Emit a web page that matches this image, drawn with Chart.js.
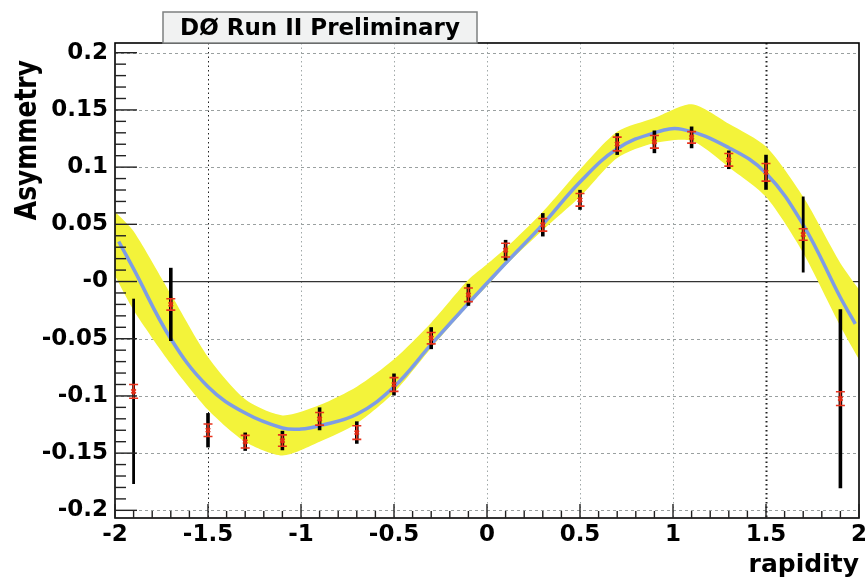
<!DOCTYPE HTML>
<html>
<head>
  <title>DØ Run II Preliminary - Asymmetry vs rapidity</title>
  <meta charset="utf-8" />
  <script src="https://cdn.jsdelivr.net/npm/chart.js@4.4.1/dist/chart.umd.min.js"></script>
  <style type="text/css">
    html, body { margin: 0; padding: 0; background: #fff; }
    canvas { display: block; }
  </style>
</head>
<body>
<canvas id="asym-chart" width="867" height="581"></canvas>

<script>
  // measured points
  var rapidity = [-1.9, -1.7, -1.5, -1.3, -1.1, -0.9, -0.7, -0.5, -0.3, -0.1,
                  0.1, 0.3, 0.5, 0.7, 0.9, 1.1, 1.3, 1.5, 1.7, 1.9];
  var asym = [-0.096, -0.020, -0.130, -0.140, -0.139, -0.120, -0.132, -0.090, -0.0495, -0.0116,
              0.0274, 0.0496, 0.0714, 0.1202, 0.1221, 0.126, 0.1064, 0.0955, 0.0411, -0.1024];
  var totErr = [0.081, 0.032, 0.015, 0.008, 0.0085, 0.010, 0.0098, 0.0096, 0.0096, 0.0096,
                0.009, 0.0102, 0.0087, 0.0095, 0.0099, 0.0095, 0.0081, 0.0153, 0.0332, 0.0782];
  var innerErr = [0.006, 0.005, 0.0055, 0.0055, 0.005, 0.0055, 0.006, 0.006, 0.005, 0.006,
                  0.006, 0.0055, 0.0055, 0.006, 0.0055, 0.005, 0.0055, 0.0077, 0.005, 0.006];

  // prediction (blue) and its band (yellow)
  var fitX = [-1.98, -1.9, -1.7, -1.5, -1.3, -1.1, -1.0, -0.9, -0.7, -0.5, -0.3, -0.1,
              0.1, 0.3, 0.5, 0.7, 0.9, 1.05, 1.3, 1.5, 1.7, 1.9, 1.98];
  var fitY = [0.035, 0.011, -0.050, -0.092, -0.115, -0.128, -0.129, -0.126, -0.116, -0.092, -0.055, -0.019,
              0.016, 0.050, 0.087, 0.116, 0.130, 0.133, 0.117, 0.0947, 0.0496, -0.014, -0.037];
  var bandX = [-2, -1.9, -1.7, -1.5, -1.3, -1.1, -0.9, -0.7, -0.5, -0.3, -0.1, 0,
               0.1, 0.3, 0.5, 0.7, 0.9, 1.1, 1.3, 1.5, 1.7, 1.9, 2];
  var bandHi = [0.061, 0.044, -0.011, -0.066, -0.103, -0.117, -0.108, -0.092, -0.068, -0.036, 0.0015, 0.015,
                0.029, 0.061, 0.098, 0.131, 0.143, 0.155, 0.138, 0.118, 0.074, 0.016, -0.007];
  var bandLo = [0.005, -0.025, -0.072, -0.112, -0.140, -0.152, -0.140, -0.124, -0.097, -0.058, -0.021, -0.004,
                0.014, 0.045, 0.074, 0.108, 0.121, 0.123, 0.100, 0.074, 0.025, -0.039, -0.068];

  // axes
  var xTickValues = [-2, -1.5, -1, -0.5, 0, 0.5, 1, 1.5, 2];
  var xTickLabels = ['-2', '-1.5', '-1', '-0.5', '0', '0.5', '1', '1.5', '2'];
  var yTickValues = [-0.2, -0.15, -0.1, -0.05, 0, 0.05, 0.1, 0.15, 0.2];
  var yTickLabels = ['-0.2', '-0.15', '-0.1', '-0.05', '-0', '0.05', '0.1', '0.15', '0.2'];

  var titleText = 'DØ Run II Preliminary';
  var xTitle = 'rapidity';
  var yTitle = 'Asymmetry';

  var FONT = "'DejaVu Sans', 'Liberation Sans', sans-serif";

  function pts(xs, ys) {
    return xs.map(function(x, i) { return {x: x, y: ys[i]}; });
  }

  // grid, zero line (under everything) and frame, ticks, titles (on top)
  var rootStyle = {
    id: 'rootStyle',
    beforeDatasetsDraw: function(chart) {
      var ctx = chart.ctx, a = chart.chartArea;
      var xs = chart.scales.x, ys = chart.scales.y;
      ctx.save();
      ctx.lineWidth = 1;
      ctx.strokeStyle = '#9aa0a0';
      ctx.setLineDash([3, 3]);
      yTickValues.forEach(function(v) {
        if (v === 0) return;
        var y = Math.round(ys.getPixelForValue(v)) + 0.5;
        ctx.beginPath(); ctx.moveTo(a.left, y); ctx.lineTo(a.right, y); ctx.stroke();
      });
      xTickValues.forEach(function(v) {
        if (Math.abs(v) === 2) return;
        var x = Math.round(xs.getPixelForValue(v)) + 0.5;
        ctx.setLineDash([1.5, 3]);
        ctx.strokeStyle = Math.abs(v) === 1.5 ? '#222' : '#a0a8a8';
        ctx.lineWidth = v === 1.5 ? 2 : 1;
        ctx.beginPath(); ctx.moveTo(x, a.top); ctx.lineTo(x, a.bottom); ctx.stroke();
      });
      ctx.setLineDash([]);
      ctx.strokeStyle = '#333';
      ctx.lineWidth = 1.3;
      var y0 = ys.getPixelForValue(0);
      ctx.beginPath(); ctx.moveTo(a.left, y0); ctx.lineTo(a.right, y0); ctx.stroke();
      ctx.restore();
    },
    afterDatasetsDraw: function(chart) {
      var ctx = chart.ctx, a = chart.chartArea;
      var xs = chart.scales.x, ys = chart.scales.y;
      ctx.save();
      ctx.strokeStyle = '#000';
      ctx.lineWidth = 1.6;
      ctx.strokeRect(a.left, a.top, a.right - a.left, a.bottom - a.top);
      ctx.lineWidth = 1.4;
      ctx.strokeStyle = '#222';
      // left axis ticks (inside)
      for (var k = -20; k <= 20; k++) {
        var y = ys.getPixelForValue(k / 100);
        var len = (k % 5 === 0) ? 22 : 11;
        ctx.beginPath(); ctx.moveTo(a.left, y); ctx.lineTo(a.left + len, y); ctx.stroke();
      }
      // bottom axis ticks (inside)
      for (var j = -20; j <= 20; j++) {
        var x = xs.getPixelForValue(j / 10);
        var l2 = (j % 5 === 0) ? 14 : 7;
        ctx.beginPath(); ctx.moveTo(x, a.bottom); ctx.lineTo(x, a.bottom - l2); ctx.stroke();
      }
      ctx.restore();
    },
    afterDraw: function(chart) {
      var ctx = chart.ctx, a = chart.chartArea;
      ctx.save();
      // title box
      ctx.fillStyle = '#f1f2f2';
      ctx.fillRect(163, 12, 314, 31);
      ctx.strokeStyle = '#7d8080';
      ctx.lineWidth = 1.5;
      ctx.strokeRect(163, 12, 314, 31);
      ctx.fillStyle = '#000';
      ctx.font = 'bold 23px ' + FONT;
      ctx.textAlign = 'center';
      ctx.textBaseline = 'middle';
      ctx.fillText(titleText, 320, 29);
      // x title
      ctx.font = 'bold 25px ' + FONT;
      ctx.textAlign = 'right';
      ctx.textBaseline = 'alphabetic';
      ctx.fillText(xTitle, a.right, 572);
      // y title
      ctx.translate(28, a.top + 17);
      ctx.scale(1.2, 1);
      ctx.rotate(-Math.PI / 2);
      ctx.textAlign = 'right';
      ctx.textBaseline = 'middle';
      ctx.fillText(yTitle, 0, 0);
      ctx.restore();
    }
  };

  // error bars under the data markers
  var errorBars = {
    id: 'errorBars',
    beforeDatasetDraw: function(chart, args) {
      if (args.index !== 3) return;
      var ctx = chart.ctx;
      var xs = chart.scales.x, ys = chart.scales.y;
      ctx.save();
      ctx.lineCap = 'butt';
      rapidity.forEach(function(r, i) {
        var x = xs.getPixelForValue(r);
        ctx.strokeStyle = '#000';
        ctx.lineWidth = (i === 0 || i === 18) ? 2.8 : 3.6;
        ctx.beginPath();
        ctx.moveTo(x, ys.getPixelForValue(asym[i] + totErr[i]));
        ctx.lineTo(x, ys.getPixelForValue(asym[i] - totErr[i]));
        ctx.stroke();
      });
      rapidity.forEach(function(r, i) {
        var x = xs.getPixelForValue(r);
        var yt = ys.getPixelForValue(asym[i] + innerErr[i]);
        var yb = ys.getPixelForValue(asym[i] - innerErr[i]);
        ctx.strokeStyle = '#e8321c';
        ctx.lineWidth = 1.6;
        ctx.beginPath();
        ctx.moveTo(x, yt); ctx.lineTo(x, yb);
        ctx.moveTo(x - 4.5, yt); ctx.lineTo(x + 4.5, yt);
        ctx.moveTo(x - 4.5, yb); ctx.lineTo(x + 4.5, yb);
        ctx.stroke();
      });
      ctx.restore();
    }
  };

  var chart = new Chart(document.getElementById('asym-chart'), {
    type: 'line',
    data: {
      datasets: [{
        label: 'band low',
        data: pts(bandX, bandLo),
        borderWidth: 0,
        borderColor: 'rgba(0,0,0,0)',
        pointRadius: 0,
        fill: false,
        tension: 0.25,
        order: 3
      }, {
        label: 'band',
        data: pts(bandX, bandHi),
        borderWidth: 0,
        borderColor: 'rgba(0,0,0,0)',
        backgroundColor: '#f3f33a',
        pointRadius: 0,
        fill: '-1',
        tension: 0.25,
        order: 2
      }, {
        label: 'prediction',
        data: pts(fitX, fitY),
        borderColor: '#7d9ce6',
        borderWidth: 3.5,
        pointRadius: 0,
        fill: false,
        tension: 0.4,
        order: 1
      }, {
        label: 'data',
        data: pts(rapidity, asym),
        showLine: false,
        pointStyle: 'crossRot',
        pointRadius: 3,
        borderColor: '#e02a14',
        backgroundColor: '#e02a14',
        borderWidth: 2,
        order: 0
      }]
    },
    options: {
      responsive: false,
      animation: false,
      events: [],
      layout: { padding: { top: 43, right: 8, left: 0, bottom: 0 } },
      plugins: { legend: { display: false }, tooltip: { enabled: false } },
      scales: {
        x: {
          type: 'linear',
          min: -2,
          max: 2,
          grid: { display: false, drawTicks: false },
          border: { display: false },
          afterBuildTicks: function(scale) {
            scale.ticks = xTickValues.map(function(v) { return {value: v}; });
          },
          afterFit: function(scale) {
            scale.height = 63;
            scale.paddingLeft = 0;
            scale.paddingRight = 0;
          },
          ticks: {
            autoSkip: false,
            maxRotation: 0,
            padding: 3,
            color: '#000',
            font: { family: FONT, weight: 'bold', size: 23 },
            callback: function(v, i) { return xTickLabels[i]; }
          }
        },
        y: {
          type: 'linear',
          min: -0.2067,
          max: 0.2085,
          grid: { display: false, drawTicks: false },
          border: { display: false },
          afterBuildTicks: function(scale) {
            scale.ticks = yTickValues.map(function(v) { return {value: v}; });
          },
          afterFit: function(scale) {
            scale.width = 115;
            scale.paddingTop = 0;
            scale.paddingBottom = 0;
          },
          ticks: {
            padding: 7,
            color: '#000',
            font: { family: FONT, weight: 'bold', size: 23 },
            callback: function(v, i) { return yTickLabels[i]; }
          }
        }
      }
    },
    plugins: [rootStyle, errorBars]
  });
</script>
</body>
</html>
